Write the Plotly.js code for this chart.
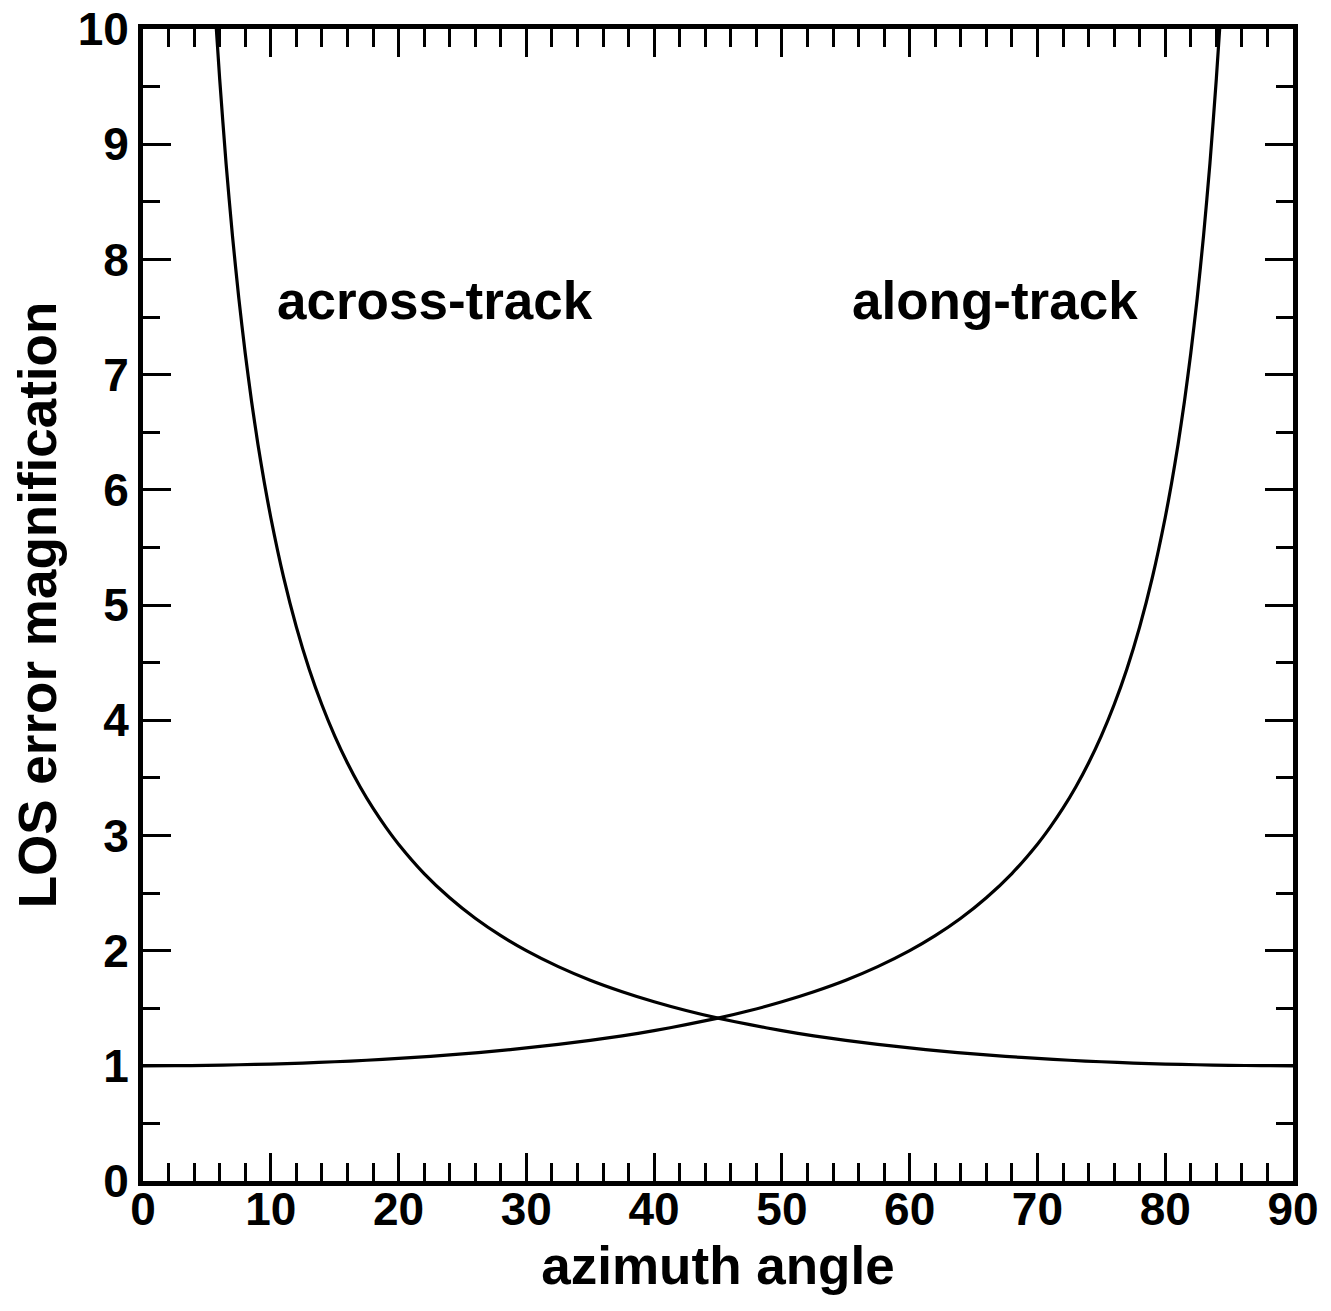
<!DOCTYPE html>
<html>
<head>
<meta charset="utf-8">
<script src="https://cdn.plot.ly/plotly-3.0.1.min.js"></script>
<style>
  html, body { margin: 0; padding: 0; background: #fff; }
  #chart { width: 1331px; height: 1311px; }
</style>
</head>
<body>
<div id="chart"></div>
<script>
// Across-track magnification versus azimuth angle
const acrossAngle = [5.74, 6, 6.5, 7, 7.5, 8, 8.5, 9, 9.5, 10, 11, 12, 13, 14, 15, 16, 17, 18, 19, 20, 22, 24, 26, 28, 30, 32.5, 35, 37.5, 40, 42.5, 45, 47.5, 50, 52.5, 55, 57.5, 60, 62.5, 65, 67.5, 70, 72.5, 75, 77.5, 80, 82.5, 85, 87.5, 90];
const acrossMag   = [10.0, 9.567, 8.834, 8.206, 7.661, 7.185, 6.765, 6.392, 6.059, 5.759, 5.241, 4.810, 4.445, 4.134, 3.864, 3.628, 3.420, 3.236, 3.072, 2.924, 2.669, 2.459, 2.281, 2.130, 2.000, 1.861, 1.743, 1.643, 1.556, 1.480, 1.414, 1.357, 1.305, 1.260, 1.221, 1.186, 1.155, 1.127, 1.103, 1.082, 1.064, 1.048, 1.035, 1.024, 1.015, 1.009, 1.004, 1.001, 1.000];

// Along-track magnification versus azimuth angle
const alongAngle = [0, 2.5, 5, 7.5, 10, 12.5, 15, 17.5, 20, 22.5, 25, 27.5, 30, 32.5, 35, 37.5, 40, 42.5, 45, 47.5, 50, 52.5, 55, 57.5, 60, 62, 64, 66, 68, 70, 71, 72, 73, 74, 75, 76, 77, 78, 79, 80, 80.5, 81, 81.5, 82, 82.5, 83, 83.5, 84, 84.26];
const alongMag   = [1.000, 1.001, 1.004, 1.009, 1.015, 1.024, 1.035, 1.048, 1.064, 1.082, 1.103, 1.127, 1.155, 1.186, 1.221, 1.260, 1.305, 1.357, 1.414, 1.480, 1.556, 1.643, 1.743, 1.861, 2.000, 2.130, 2.281, 2.459, 2.669, 2.924, 3.072, 3.236, 3.420, 3.628, 3.864, 4.134, 4.445, 4.810, 5.241, 5.759, 6.059, 6.392, 6.765, 7.185, 7.661, 8.206, 8.834, 9.567, 10.0];

const curveLabels = ['across-track', 'along-track'];
const labelAngle = [22.85, 66.7];
const labelMag = [7.64, 7.64];

const FONT = 'Liberation Sans, Arial, Helvetica, sans-serif';

const traces = [
  { x: acrossAngle, y: acrossMag, mode: 'lines', line: { color: '#000', width: 3.2, shape: 'spline', smoothing: 0.6 }, hoverinfo: 'skip', showlegend: false },
  { x: alongAngle, y: alongMag, mode: 'lines', line: { color: '#000', width: 3.2, shape: 'spline', smoothing: 0.6 }, hoverinfo: 'skip', showlegend: false }
];

const axisCommon = {
  showgrid: false,
  zeroline: false,
  showline: true,
  linecolor: '#000',
  linewidth: 5,
  mirror: 'allticks',
  ticks: 'inside',
  ticklen: 28,
  tickwidth: 3,
  tickcolor: '#000',
  tickfont: { family: FONT, size: 46, color: '#000', weight: 'bold' },
  fixedrange: true
};

const layout = {
  width: 1331,
  height: 1311,
  paper_bgcolor: '#fff',
  plot_bgcolor: '#fff',
  margin: { l: 143, r: 38, t: 29, b: 130 },
  font: { family: FONT, color: '#000' },
  xaxis: Object.assign({}, axisCommon, {
    range: [0, 90],
    tickmode: 'linear', tick0: 0, dtick: 10,
    ticklabelstandoff: -16,
    minor: { tick0: 0, dtick: 2, ticks: 'inside', ticklen: 18, tickwidth: 3, tickcolor: '#000' },
    title: { text: 'azimuth angle', font: { family: FONT, size: 53, color: '#000', weight: 'bold' }, standoff: 14 }
  }),
  yaxis: Object.assign({}, axisCommon, {
    range: [0, 10],
    tickmode: 'linear', tick0: 0, dtick: 1,
    minor: { tick0: 0, dtick: 0.5, ticks: 'inside', ticklen: 17, tickwidth: 3, tickcolor: '#000' },
    title: { text: 'LOS error magnification', font: { family: FONT, size: 53, color: '#000', weight: 'bold' }, standoff: 6 }
  }),
  annotations: curveLabels.map((t, i) => ({
    x: labelAngle[i], y: labelMag[i], xref: 'x', yref: 'y',
    text: t, showarrow: false,
    font: { family: FONT, size: 53, color: '#000', weight: 'bold' },
    xanchor: 'center', yanchor: 'middle'
  }))
};

Plotly.newPlot('chart', traces, layout, { staticPlot: true, displayModeBar: false });
</script>
</body>
</html>
